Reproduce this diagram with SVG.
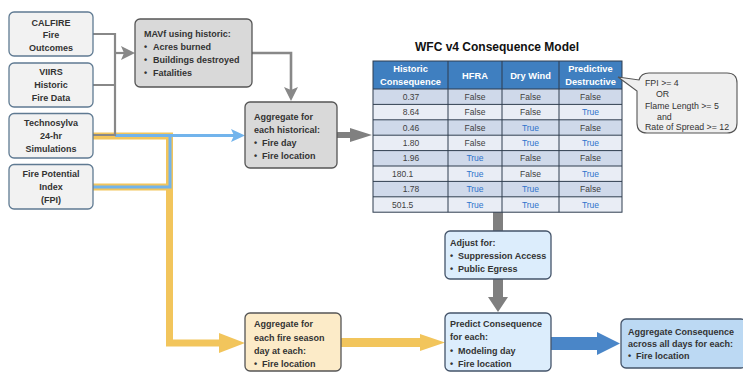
<svg xmlns="http://www.w3.org/2000/svg" width="743" height="372" viewBox="0 0 743 372">
<defs>
<style>
text{font-family:"Liberation Sans",Arial,sans-serif;}
.src rect{fill:#f2f2f2;stroke:#5f7a92;stroke-width:1.3;}
.src text{font-size:9px;font-weight:bold;fill:#333;text-anchor:middle;}
.gbox rect{fill:#d9d9d9;stroke:#555;stroke-width:1.3;}
.ybox rect{fill:#fcebc8;stroke:#555;stroke-width:1.3;}
.bbox rect{fill:#dcedfc;stroke:#44546a;stroke-width:1.3;}
.dbox rect{fill:#bcd9f3;stroke:#44546a;stroke-width:1.3;}
.bt{font-size:9px;font-weight:bold;fill:#333;}
.hd{font-size:9.3px;font-weight:bold;fill:#fff;text-anchor:middle;}
.cell{font-size:8.5px;fill:#404040;text-anchor:middle;}
.t{fill:#2f74cc;}
.num{font-size:8.5px;fill:#404040;text-anchor:middle;}
.numl{font-size:8.5px;fill:#404040;}
.call{font-size:8.8px;fill:#333;}
</style>
</defs>
<rect width="743" height="372" fill="#fff"/>

<g id="connectors">
<!-- yellow -->
<path d="M93,136 H169.5 V343 H222" fill="none" stroke="#f2c55c" stroke-width="7"/>
<path d="M93,187 H169.5" fill="none" stroke="#f2c55c" stroke-width="7"/>
<polygon points="219,333 245,343 219,353" fill="#f2c55c"/>
<!-- blue -->
<path d="M93,187 H170 V135.5 H236" fill="none" stroke="#72b4ec" stroke-width="3"/>
<path d="M115,135.5 H170" fill="none" stroke="#72b4ec" stroke-width="3"/>
<polygon points="231,129 245,135.5 231,142 234,135.5" fill="#72b4ec"/>
<!-- gray connectors -->
<path d="M93,34 H115 V135 H93 M93,85 H115" fill="none" stroke="#888" stroke-width="2.2"/>
<path d="M115,53 H125" fill="none" stroke="#888" stroke-width="2.2"/>
<polygon points="121,46 135,53 121,60 124,53" fill="#888"/>
<path d="M252,53 H291 V92" fill="none" stroke="#888" stroke-width="2.6"/>
<polygon points="284,87 291,101 298,87 291,90" fill="#888"/>
<!-- gray block arrows -->
<polygon points="337,132 350,132 350,128 372,135 350,142 350,138 337,138" fill="#808080"/>
<rect x="493" y="212" width="10" height="19" fill="#7f7f7f"/>
<polygon points="493,279 503,279 503,297 508,297 498,312 488,297 493,297" fill="#7f7f7f"/>
<!-- yellow block arrow -->
<polygon points="341,338 420,338 420,334 445,342.5 420,351 420,347 341,347" fill="#f2c55c"/>
<!-- blue block arrow -->
<polygon points="551,337 597,337 597,332 620,343.5 597,355 597,350 551,350" fill="#4a86c8"/>
</g>

<g id="calfire" class="src">
<rect x="9" y="12" width="84" height="44" rx="5"/>
<text x="51" y="25.5">CALFIRE</text>
<text x="51" y="38">Fire</text>
<text x="51" y="50.5">Outcomes</text>
</g>
<g id="viirs" class="src">
<rect x="9" y="63" width="84" height="44" rx="5"/>
<text x="51" y="75">VIIRS</text>
<text x="51" y="88">Historic</text>
<text x="51" y="101">Fire Data</text>
</g>
<g id="technosylva" class="src">
<rect x="9" y="113.5" width="84" height="44.5" rx="5"/>
<text x="51" y="126">Technosylva</text>
<text x="51" y="139">24-hr</text>
<text x="51" y="152">Simulations</text>
</g>
<g id="fpi" class="src">
<rect x="9" y="164.5" width="84" height="44.5" rx="5"/>
<text x="51" y="177">Fire Potential</text>
<text x="51" y="190">Index</text>
<text x="51" y="203">(FPI)</text>
</g>

<g id="mavf" class="gbox">
<rect x="135" y="19" width="117" height="68" rx="5"/>
<text class="bt" x="144" y="37">MAVf using historic:</text>
<text class="bt" x="144" y="50">•</text><text class="bt" x="153" y="50">Acres burned</text>
<text class="bt" x="144" y="63">•</text><text class="bt" x="153" y="63">Buildings destroyed</text>
<text class="bt" x="144" y="76">•</text><text class="bt" x="153" y="76">Fatalities</text>
</g>

<g id="agg-historical" class="gbox">
<rect x="245" y="102" width="92" height="66" rx="5"/>
<text class="bt" x="254" y="120">Aggregate for</text>
<text class="bt" x="254" y="133">each historical:</text>
<text class="bt" x="254" y="146">•</text><text class="bt" x="262" y="146">Fire day</text>
<text class="bt" x="254" y="159">•</text><text class="bt" x="262" y="159">Fire location</text>
</g>

<g id="table">
<text x="497" y="51" style="font-size:12px;font-weight:bold;fill:#111;text-anchor:middle">WFC v4 Consequence Model</text>
<rect x="373" y="61" width="249" height="28" fill="#3f7fc0"/>
<rect x="373" y="89" width="249" height="15.4" fill="#cfd9ea"/>
<rect x="373" y="104.4" width="249" height="15.4" fill="#e9edf5"/>
<rect x="373" y="119.8" width="249" height="15.4" fill="#cfd9ea"/>
<rect x="373" y="135.2" width="249" height="15.4" fill="#e9edf5"/>
<rect x="373" y="150.6" width="249" height="15.4" fill="#cfd9ea"/>
<rect x="373" y="166" width="249" height="15.4" fill="#e9edf5"/>
<rect x="373" y="181.4" width="249" height="15.4" fill="#cfd9ea"/>
<rect x="373" y="196.8" width="249" height="15.4" fill="#e9edf5"/>
<g stroke="#2e3d4f" stroke-width="1" fill="none">
<rect x="373" y="61" width="249" height="151.2"/>
<path d="M448,61 V212.2 M502,61 V212.2 M559,61 V212.2"/>
<path d="M373,89 H622 M373,104.4 H622 M373,119.8 H622 M373,135.2 H622 M373,150.6 H622 M373,166 H622 M373,181.4 H622 M373,196.8 H622"/>
</g>
<text class="hd" x="410.5" y="72">Historic</text>
<text class="hd" x="410.5" y="85">Consequence</text>
<text class="hd" x="475" y="78.5">HFRA</text>
<text class="hd" x="530.5" y="78.5">Dry Wind</text>
<text class="hd" x="590.5" y="72">Predictive</text>
<text class="hd" x="590.5" y="85">Destructive</text>

<text class="num" x="411" y="99.7">0.37</text>
<text class="cell" x="475" y="99.7">False</text><text class="cell" x="530.5" y="99.7">False</text><text class="cell" x="590.5" y="99.7">False</text>
<text class="num" x="411" y="115.1">8.64</text>
<text class="cell" x="475" y="115.1">False</text><text class="cell" x="530.5" y="115.1">False</text><text class="cell t" x="590.5" y="115.1">True</text>
<text class="num" x="411" y="130.5">0.46</text>
<text class="cell" x="475" y="130.5">False</text><text class="cell t" x="530.5" y="130.5">True</text><text class="cell" x="590.5" y="130.5">False</text>
<text class="num" x="411" y="145.9">1.80</text>
<text class="cell" x="475" y="145.9">False</text><text class="cell t" x="530.5" y="145.9">True</text><text class="cell t" x="590.5" y="145.9">True</text>
<text class="num" x="411" y="161.3">1.96</text>
<text class="cell t" x="475" y="161.3">True</text><text class="cell" x="530.5" y="161.3">False</text><text class="cell" x="590.5" y="161.3">False</text>
<text class="numl" x="392" y="176.7">180.1</text>
<text class="cell t" x="475" y="176.7">True</text><text class="cell" x="530.5" y="176.7">False</text><text class="cell t" x="590.5" y="176.7">True</text>
<text class="num" x="411" y="192.1">1.78</text>
<text class="cell t" x="475" y="192.1">True</text><text class="cell t" x="530.5" y="192.1">True</text><text class="cell" x="590.5" y="192.1">False</text>
<text class="numl" x="392" y="207.5">501.5</text>
<text class="cell t" x="475" y="207.5">True</text><text class="cell t" x="530.5" y="207.5">True</text><text class="cell t" x="590.5" y="207.5">True</text>
</g>

<g id="callout">
<path d="M649,73 H727 Q737,73 737,83 V123 Q737,133 727,133 H647 Q637,133 637,123 V91 L618,77 L639,80 Q641,73 649,73 Z" fill="#efefef" stroke="#555" stroke-width="1.1"/>
<text class="call" x="645" y="86">FPI &gt;= 4</text>
<text class="call" x="656" y="97">OR</text>
<text class="call" x="645" y="108.5">Flame Length &gt;= 5</text>
<text class="call" x="657" y="119.5">and</text>
<text class="call" x="645" y="130">Rate of Spread &gt;= 12</text>
</g>

<g id="adjust" class="bbox">
<rect x="445" y="231" width="106" height="48" rx="5"/>
<text class="bt" x="450" y="246">Adjust for:</text>
<text class="bt" x="450" y="259">•</text><text class="bt" x="458" y="259">Suppression Access</text>
<text class="bt" x="450" y="272">•</text><text class="bt" x="458" y="272">Public Egress</text>
</g>

<g id="agg-season" class="ybox">
<rect x="245" y="313" width="96" height="58" rx="5"/>
<text class="bt" x="254" y="327">Aggregate for</text>
<text class="bt" x="254" y="341">each fire season</text>
<text class="bt" x="254" y="354">day at each:</text>
<text class="bt" x="254" y="367">•</text><text class="bt" x="262" y="367">Fire location</text>
</g>

<g id="predict" class="bbox">
<rect x="445" y="313" width="106" height="58" rx="5"/>
<text class="bt" x="450" y="327">Predict Consequence</text>
<text class="bt" x="450" y="340">for each:</text>
<text class="bt" x="450" y="354">•</text><text class="bt" x="458" y="354">Modeling day</text>
<text class="bt" x="450" y="367">•</text><text class="bt" x="458" y="367">Fire location</text>
</g>

<g id="agg-consequence" class="dbox">
<rect x="621" y="319" width="125" height="49" rx="5"/>
<text class="bt" x="628" y="335">Aggregate Consequence</text>
<text class="bt" x="628" y="347">across all days for each:</text>
<text class="bt" x="628" y="359">•</text><text class="bt" x="636" y="359">Fire location</text>
</g>
</svg>
